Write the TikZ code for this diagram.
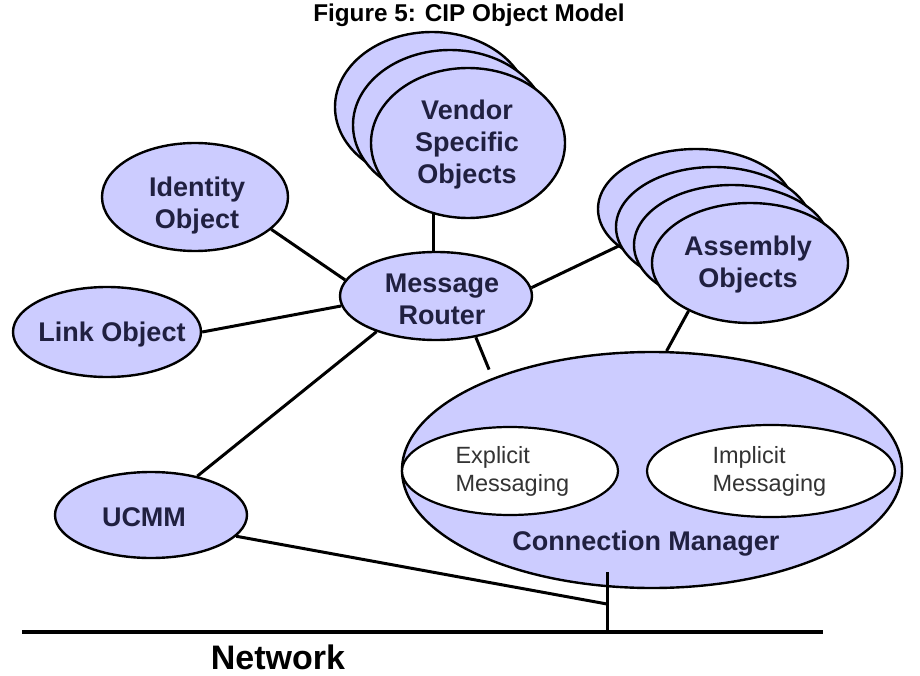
\documentclass[tikz,border=0pt]{standalone}
\usepackage{fontspec}
\setmainfont{Liberation Sans}
\usetikzlibrary{positioning,backgrounds,calc,shapes.geometric}

\definecolor{objfill}{RGB}{204,204,255}
\definecolor{objtext}{RGB}{32,32,64}

\tikzset{
  obj/.style={ellipse, draw=black, line width=2.4pt, fill=objfill, inner sep=0pt},
  lbl/.style={font=\fontsize{27}{32}\selectfont\bfseries, text=objtext, align=center},
  msg/.style={ellipse, draw=black, line width=2.2pt, fill=white, inner sep=0pt},
  msglbl/.style={font=\fontsize{23.5}{28}\selectfont, text=black!80, align=left, anchor=west},
  wire/.style={line width=3pt},
}

\begin{document}
\begin{tikzpicture}[x=1pt,y=-1pt]
\useasboundingbox (0,0) rectangle (920,676);
\node[font=\fontsize{24.3}{28}\selectfont\bfseries] (title) at (469,15) {Figure 5: CIP Object Model};

% vendor specific objects
\foreach \k in {2,1} {
\node[obj, minimum width=194pt, minimum height=150pt] (vso\k) at ({468-18*\k},{143-18*\k}) {};
}
\node[obj, minimum width=194pt, minimum height=150pt] (vso) at (468,143) {};
\node[lbl] (vsot) at (467,145) {Vendor\\Specific\\Objects};

% assembly objects
\foreach \k in {3,2,1} {
\node[obj, minimum width=196pt, minimum height=120pt] (asm\k) at ({750-18*\k},{263-18*\k}) {};
}
\node[obj, minimum width=196pt, minimum height=120pt] (asm) at (750,263) {};
\node[lbl] (asmt) at (748,265) {Assembly\\Objects};

\node[obj, minimum width=186pt, minimum height=108pt] (ido) at (195,197) {};
\node[lbl] (idot) at (197,206) {Identity\\Object};

\node[obj, minimum width=188pt, minimum height=90pt] (link) at (107,332) {};
\node[lbl] (linkt) at (112,335) {Link Object};

\node[obj, minimum width=192pt, minimum height=88pt] (mr) at (436,296) {};
\node[lbl] (mrt) at (442,299) {Message\\Router};

\node[obj, minimum width=192pt, minimum height=86pt] (ucmm) at (151,515) {};
\node[lbl] (ucmmt) at (144,517) {UCMM};

% connection manager
\node[obj, minimum width=500pt, minimum height=236pt] (cm) at (652,470) {};
\node[msg, minimum width=216pt, minimum height=88pt] (expl) at (510,471) {};
\node[msg, minimum width=248pt, minimum height=92pt] (impl) at (771,471) {};
\node[msglbl] (explt) at (452,471) {Explicit\\Messaging};
\node[msglbl] (implt) at (709,471) {Implicit\\Messaging};
\node[lbl] (cmt) at (646,544) {Connection Manager};

% network
\coordinate (netL) at (22,632);
\coordinate (netR) at (823,632);
\coordinate (tap) at (607,632);
\coordinate (cmtap) at (607,572);
\coordinate (ujoin) at (607,604);
\draw[line width=3.6pt] (netL) -- (netR);
\node[font=\fontsize{34}{38}\selectfont\bfseries, inner sep=0pt] (net) at (278,657) {Network};
\draw[wire] (cmtap) -- (tap);
\draw[wire] (ucmm.-14) -- (ujoin);

\begin{scope}[on background layer]
\draw[wire] (ido.-23) -- (mr.170);
\draw[wire] (link.0) -- (mr.186);
\draw[wire] (ucmm.40) -- (mr.211);
\draw[wire] (mr.93) -- (mr.93 |- vso.center);
\draw[wire] (mr.5) -- (asm3.center);
\draw[wire, shorten >=9pt] (mr.-46) -- (cm.150);
\draw[wire] (asm.218) -- (cm.83);
\end{scope}
\end{tikzpicture}
\end{document}
